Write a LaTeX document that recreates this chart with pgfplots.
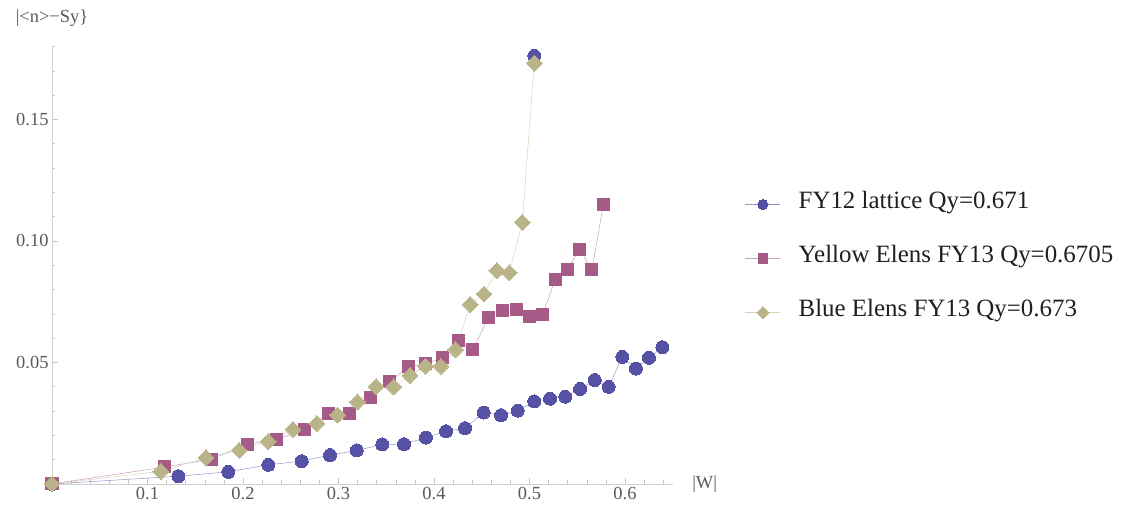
\documentclass[border=0pt]{standalone}
\usepackage{fontspec}
\setmainfont{Liberation Serif}
\usepackage{pgfplots}
\pgfplotsset{compat=1.18}
\definecolor{cA}{RGB}{85,82,165}
\definecolor{cAl}{RGB}{150,147,200}
\definecolor{cB}{RGB}{165,90,135}
\definecolor{cBl}{RGB}{205,160,185}
\definecolor{cC}{RGB}{184,180,135}
\definecolor{cCl}{RGB}{215,212,185}
\begin{document}
\begin{tikzpicture}
\path[use as bounding box] (0,0) rectangle (1134bp,513bp);
\begin{axis}[
  at={(52bp,29bp)}, anchor=south west,
  scale only axis, width=620.75bp, height=437.4bp,
  xmin=0, xmax=0.65, ymin=0, ymax=0.18,
  axis lines=middle,
  axis line style={-, draw=black!18, line width=0.6bp},
  clip=false,
  xtick={0.1,0.2,0.3,0.4,0.5,0.6},
  minor xtick={0.02,0.04,...,0.645},
  ytick={0.05,0.1,0.15},
  minor ytick={0.01,0.02,...,0.181},
  tick align=inside,
  major tick length=6bp, minor tick length=3.5bp,
  every tick/.style={draw=black!22, line width=0.6bp},
  scaled ticks=false,
  /pgf/number format/assume math mode=true,
  ticklabel style={font=\fontsize{18.5}{21}\selectfont, text=black!65},
  yticklabel style={/pgf/number format/fixed, /pgf/number format/fixed zerofill, /pgf/number format/precision=2},
  xticklabel style={/pgf/number format/fixed, /pgf/number format/precision=1},
  xlabel={|W|}, ylabel={|<n>−Sy\}},
  xlabel style={at={(axis description cs:1,0)}, anchor=west, xshift=16bp, font=\fontsize{18.5}{21}\selectfont, text=black!65},
  ylabel style={at={(axis description cs:0,1)}, anchor=south, yshift=17bp, rotate=0, font=\fontsize{18.5}{21}\selectfont, text=black!65},
  legend style={draw=none, fill=none, inner sep=0pt, at={(1.1164,0.519)}, anchor=west,
    font=\fontsize{25}{29}\selectfont, text=black!88,
    nodes={inner sep=0pt, text height=17bp, text depth=5bp},
    row sep=32bp, column sep=18bp},
  legend cell align=left,
  legend image code/.code={\pgfplotmarksize=0.78\pgfplotmarksize\draw[mark repeat=2,mark phase=2] plot coordinates {(0bp,-1.5bp) (17.5bp,-1.5bp) (35bp,-1.5bp)};},
]
\addplot[color=cAl, line width=0.5bp, mark=*, mark size=6.5bp, mark options={draw=cA, fill=cA, line width=0pt}] coordinates {
(0,0) (0.1323,0.0032) (0.1846,0.0050) (0.2265,0.0079) (0.2615,0.0094) (0.2911,0.0119)
(0.3191,0.0138) (0.3458,0.0163) (0.3686,0.0164) (0.3916,0.0191) (0.4126,0.0217) (0.4325,0.0230)
(0.4520,0.0294) (0.4702,0.0283) (0.4876,0.0302) (0.5049,0.0340) (0.5215,0.0351) (0.5375,0.0359)
(0.5529,0.0391) (0.5683,0.0428) (0.5829,0.0400) (0.5972,0.0523) (0.6115,0.0475) (0.6251,0.0519)
(0.6391,0.0563)};
\addlegendentry{FY12 lattice Qy=0.671}
\addplot[forget plot, only marks, mark=*, mark size=6.5bp, mark options={draw=cA, fill=cA, line width=0pt}] coordinates {(0.505,0.1762)};
\addplot[color=cBl, line width=0.5bp, mark=square*, mark size=6bp, mark options={draw=cB, fill=cB, line width=0pt}] coordinates {
(0,0) (0.1181,0.0070) (0.1668,0.0102) (0.2042,0.0164) (0.2356,0.0183) (0.2639,0.0224)
(0.2895,0.0289) (0.3115,0.0290) (0.3335,0.0357) (0.3534,0.0420) (0.3731,0.0482) (0.3916,0.0495)
(0.4087,0.0519) (0.4254,0.0590) (0.4408,0.0552) (0.4571,0.0687) (0.4715,0.0712) (0.4859,0.0717)
(0.5002,0.0691) (0.5138,0.0697) (0.5270,0.0843) (0.5403,0.0884) (0.5524,0.0967) (0.5654,0.0881)
(0.5773,0.1150)};
\addlegendentry{Yellow Elens FY13 Qy=0.6705}
\addplot[color=cCl, line width=0.5bp, mark=square*, mark size=5.6bp, mark options={rotate=45, draw=cC, fill=cC, line width=0pt}] coordinates {
(0,0) (0.1139,0.0052) (0.1613,0.0108) (0.1960,0.0139) (0.2265,0.0175) (0.2524,0.0225)
(0.2772,0.0249) (0.2990,0.0284) (0.3197,0.0338) (0.3393,0.0400) (0.3578,0.0400) (0.3749,0.0447)
(0.3913,0.0485) (0.4073,0.0485) (0.4225,0.0553) (0.4380,0.0739) (0.4524,0.0782) (0.4657,0.0878)
(0.4789,0.0870) (0.4925,0.1077) (0.5050,0.1732)};
\addlegendentry{Blue Elens FY13 Qy=0.673}
\end{axis}
\end{tikzpicture}
\end{document}
